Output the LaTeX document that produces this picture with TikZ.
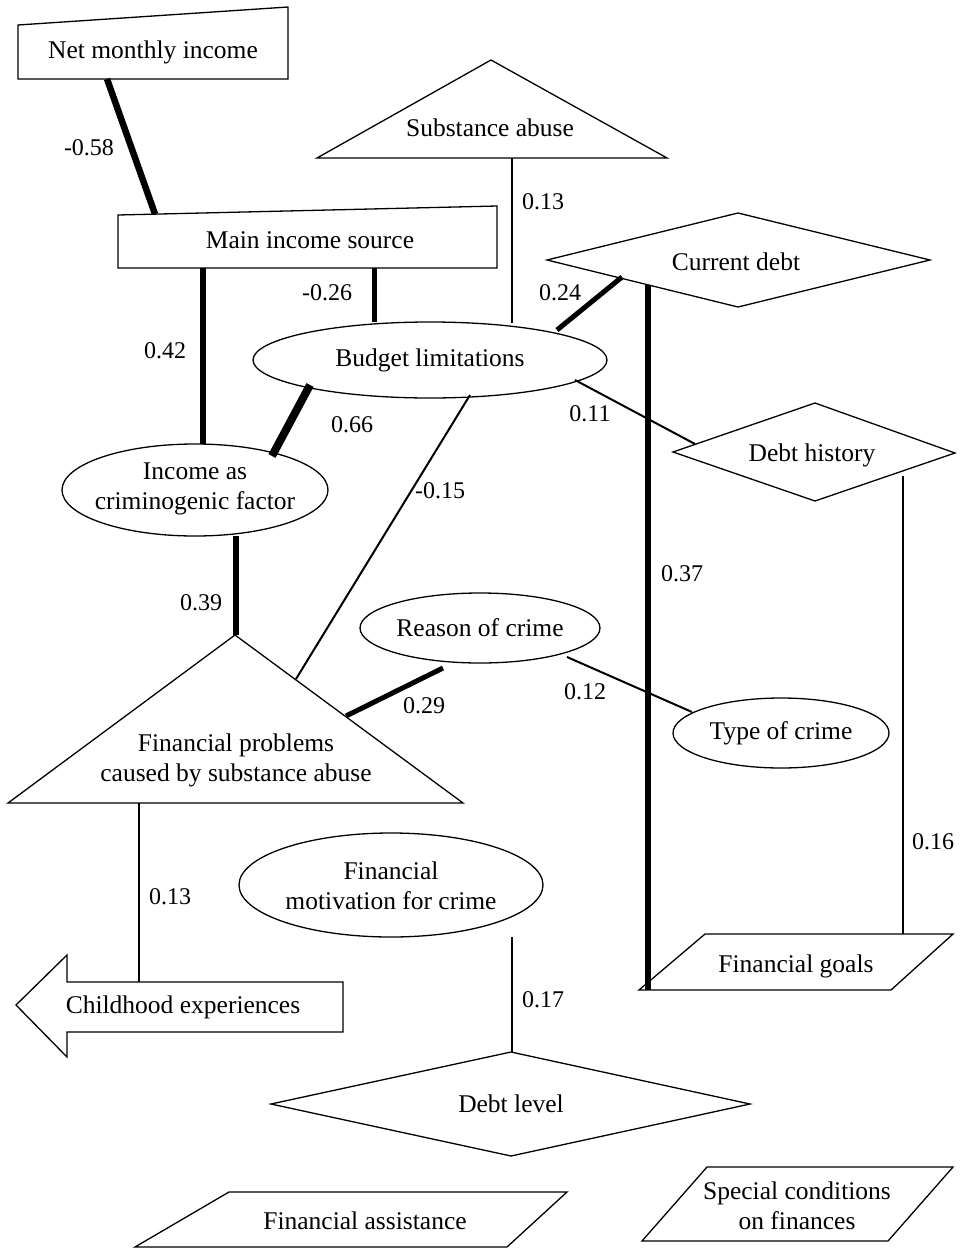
\documentclass[tikz,border=0pt]{standalone}
\usepackage{fontspec}
\setmainfont{Liberation Serif}
\usetikzlibrary{shapes.geometric}
\begin{document}
\begin{tikzpicture}[x=1pt,y=-1pt,
 outline/.style={draw, line width=1.3pt, line join=miter, fill=white},
 txt/.style={font=\fontsize{25.5}{30}\selectfont, align=center, inner sep=0},
 ell/.style={ellipse, draw, line width=1.3pt, fill=white, inner sep=0, font=\fontsize{25.5}{30}\selectfont, align=center},
 lbl/.style={font=\fontsize{24}{28}\selectfont, inner sep=0},
 cA/.style={line width=2pt},
 cB/.style={line width=5pt},
 cC/.style={line width=6.5pt},
 cD/.style={line width=8pt}
]
\useasboundingbox (0,0) rectangle (960,1250);

% ---- polygon shapes ----
\draw[outline] (18,25) -- (288,7) -- (288,79) -- (18,79) -- cycle;
\node[txt] (nmi) at (153,52) {Net monthly income};

\draw[outline] (118,215) -- (497,206) -- (497,268) -- (118,268) -- cycle;
\node[txt] (mis) at (310,240) {Main income source};

\draw[outline] (491,60) -- (667,158) -- (317,158) -- cycle;
\node[txt] (sub) at (490,128) {Substance abuse};

\draw[outline] (547,260) -- (738,213) -- (930,260) -- (738,307) -- cycle;
\node[txt] (cur) at (736,262) {Current debt};

\draw[outline] (673,452) -- (815,403) -- (955,453) -- (815,501) -- cycle;
\node[txt] (dh) at (812,455) {Debt history};

\draw[outline] (235,635) -- (463,803) -- (8,803) -- cycle;
\node[txt] (fp) at (236,760) {Financial problems\\caused by substance abuse};

\draw[outline] (705,934) -- (953,934) -- (891,990) -- (639,990) -- cycle;
\node[txt] (goals) at (796,966) {Financial goals};

\draw[outline] (16,1005) -- (67,955) -- (67,982) -- (343,982) -- (343,1032) -- (67,1032) -- (67,1057) -- cycle;
\node[txt] (child) at (183,1007) {Childhood experiences};

\draw[outline] (271,1104) -- (511,1052) -- (750,1104) -- (511,1156) -- cycle;
\node[txt] (dl) at (511,1104) {Debt level};

\draw[outline] (229,1192) -- (567,1192) -- (507,1247) -- (135,1247) -- cycle;
\node[txt] (fa) at (365,1221) {Financial assistance};

\draw[outline] (707,1167) -- (953,1167) -- (888,1241) -- (642,1241) -- cycle;
\node[txt] (sc) at (797,1206) {Special conditions\\on finances};

% ---- ellipse shapes ----
\node[ell, minimum width=354pt, minimum height=76pt] (bud) at (430,360) {Budget limitations};
\draw[outline] (195,490) ellipse [x radius=133pt, y radius=46pt];
\node[txt] (inc) at (195,489) {Income as\\criminogenic factor};
\node[ell, minimum width=240pt, minimum height=70pt] (rea) at (480,628) {Reason of crime};
\node[ell, minimum width=216pt, minimum height=70pt] (typ) at (781,733) {Type of crime};
\draw[outline] (391,885) ellipse [x radius=152pt, y radius=52pt];
\node[txt] (mot) at (391,886) {Financial\\motivation for crime};

% ---- connector end points ----
\coordinate (nmi-s) at (107,79);   \coordinate (mis-n) at (155,214);
\coordinate (mis-s1) at (203,268); \coordinate (inc-n) at (203,444);
\coordinate (mis-s2) at (374,268); \coordinate (bud-n1) at (374,322);
\coordinate (sub-s) at (512,158);  \coordinate (bud-n2) at (512,323);
\coordinate (bud-ne) at (557,330); \coordinate (cur-sw) at (622,277);
\coordinate (bud-se) at (575,380); \coordinate (dh-w) at (695,444);
\coordinate (bud-sw) at (310,385); \coordinate (inc-ne) at (272,456);
\coordinate (bud-s) at (470,395);  \coordinate (fp-ne) at (296,679);
\coordinate (cur-s) at (648,285);  \coordinate (goals-w) at (648,990);
\coordinate (dh-s) at (903,476);   \coordinate (goals-n) at (903,934);
\coordinate (inc-s) at (236,536);  \coordinate (fp-n) at (236,635);
\coordinate (rea-sw) at (443,668); \coordinate (fp-e) at (346,716);
\coordinate (rea-se) at (567,657); \coordinate (typ-w) at (692,712);
\coordinate (fp-s) at (139,803);   \coordinate (child-n) at (139,982);
\coordinate (mot-s) at (512,937);  \coordinate (dl-n) at (512,1052);

% ---- connectors ----
\draw[cC] (nmi-s) -- (mis-n);
\draw[cC] (mis-s1) -- (inc-n);
\draw[cB] (mis-s2) -- (bud-n1);
\draw[cA] (sub-s) -- (bud-n2);
\draw[cB] (bud-ne) -- (cur-sw);
\draw[cA] (bud-se) -- (dh-w);
\draw[cD] (bud-sw) -- (inc-ne);
\draw[cA] (bud-s) -- (fp-ne);
\draw[cC] (cur-s) -- (goals-w);
\draw[cA] (dh-s) -- (goals-n);
\draw[cC] (inc-s) -- (fp-n);
\draw[cB] (rea-sw) -- (fp-e);
\draw[cA] (rea-se) -- (typ-w);
\draw[cA] (fp-s) -- (child-n);
\draw[cA] (mot-s) -- (dl-n);

% ---- labels ----
\node[lbl] (l1) at (89,148) {-0.58};
\node[lbl] (l2) at (165,351) {0.42};
\node[lbl] (l3) at (327,293) {-0.26};
\node[lbl] (l4) at (543,202) {0.13};
\node[lbl] (l5) at (560,293) {0.24};
\node[lbl] (l6) at (590,414) {0.11};
\node[lbl] (l7) at (352,425) {0.66};
\node[lbl] (l8) at (440,491) {-0.15};
\node[lbl] (l9) at (682,574) {0.37};
\node[lbl] (l10) at (933,842) {0.16};
\node[lbl] (l11) at (201,603) {0.39};
\node[lbl] (l12) at (424,706) {0.29};
\node[lbl] (l13) at (585,692) {0.12};
\node[lbl] (l14) at (170,897) {0.13};
\node[lbl] (l15) at (543,1000) {0.17};
\end{tikzpicture}
\end{document}
